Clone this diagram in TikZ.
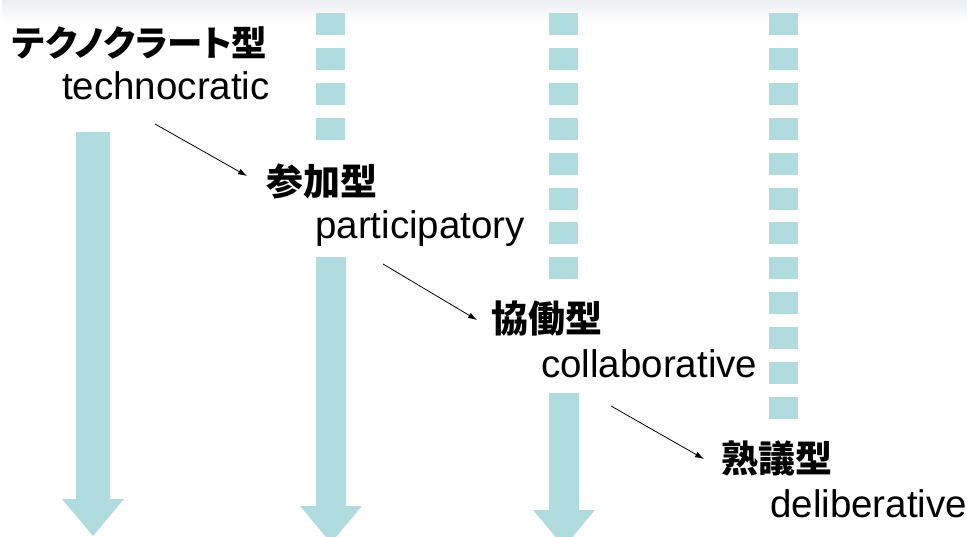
\documentclass[tikz,border=0pt]{standalone}
\usepackage{fontspec}
\setmainfont{Liberation Sans}
\newfontfamily\jpfont[RawFeature=+palt]{Noto Sans CJK JP}
\usetikzlibrary{arrows.meta}
\definecolor{paleteal}{RGB}{176,220,223}
\definecolor{bandgray}{RGB}{236,237,241}
\tikzset{
  jplabel/.style={anchor=west,inner sep=0pt,font=\jpfont\bfseries\fontsize{37}{37}\selectfont},
  enlabel/.style={anchor=base west,inner sep=0pt,font=\fontsize{38.5}{38.5}\selectfont},
}
\begin{document}
\begin{tikzpicture}[>={Latex[length=9pt,width=6pt]},x=1pt,y=-1pt]
		\useasboundingbox (0,0) rectangle (967,536);
		\clip (0,0) rectangle (967,536);
		\shade[top color=bandgray,bottom color=white!97!bandgray] (2,0) rectangle (967,21);
		% broken columns
		\foreach \x/\n in {316/4,549/8,769/12}
			\foreach \k in {1,...,\n}
				\fill[paleteal] (\x,{13+34.9*(\k-1)}) rectangle ++(29,22);
		% big arrows
		\foreach \c/\w/\ya/\yb in {93/17/132/499,331/15/257/506,564/15/393/510}
			\fill[paleteal] (\c-\w,\ya) -- (\c+\w,\ya) -- (\c+\w,\yb) -- (\c+31,\yb) -- (\c,\yb+37) -- (\c-31,\yb) -- (\c-\w,\yb) -- cycle;
		\node[jplabel,font=\jpfont\bfseries\fontsize{35.5}{35.5}\selectfont] (jp1) at (12,43) {テクノクラート型};
		\node[enlabel] (en1) at (62,99) {technocratic};
		\node[jplabel] (jp2) at (266,181) {参加型};
		\node[enlabel] (en2) at (315,238) {participatory};
		\node[jplabel] (jp3) at (491,319) {協働型};
		\node[enlabel] (en3) at (541,377) {collaborative};
		\node[jplabel] (jp4) at (721,458) {熟議型};
		\node[enlabel] (en4) at (770,517) {deliberative};
		\coordinate (s1) at (155,124);
		\coordinate (s2) at (383,264);
		\coordinate (s3) at (611,406);
		\draw[->,line width=0.8pt] (s1) -- ([shift={(-19,-5)}]jp2.west);
		\draw[->,line width=0.8pt] (s2) -- ([shift={(-14,1)}]jp3.west);
		\draw[->,line width=0.8pt] (s3) -- ([shift={(-17,1)}]jp4.west);
\end{tikzpicture}
\end{document}
